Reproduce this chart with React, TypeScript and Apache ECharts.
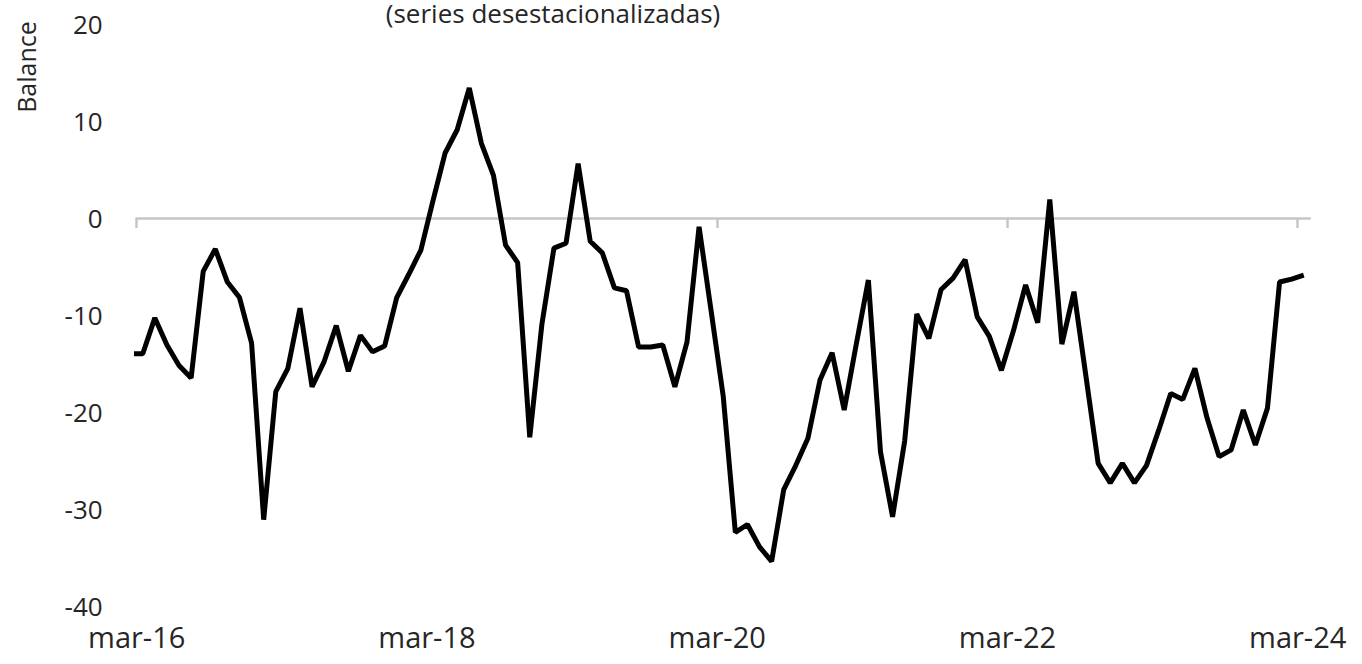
import React, { useEffect, useRef } from "react";
import * as echarts from "echarts";

// Monthly balance, from feb-16 (first point, partly outside the axis) to mar-24
const startMonth = "feb-16";
const values: number[] = [
  -14.0, // feb-16
  -14.0, -10.3, -13.1, -15.2, -16.5, -5.5, -3.2, -6.6, -8.2, -12.9, -31.1, -17.9, // mar-16 .. feb-17
  -15.5, -9.3, -17.4, -14.8, -11.1, -15.8, -12.1, -13.8, -13.2, -8.2, -5.8, -3.3, // mar-17 .. feb-18
  1.8, 6.7, 9.1, 13.4, 7.7, 4.4, -2.8, -4.6, -22.6, -11.0, -3.1, -2.6, // mar-18 .. feb-19
  5.6, -2.4, -3.6, -7.2, -7.5, -13.3, -13.3, -13.1, -17.4, -12.8, -0.9, -9.6, // mar-19 .. feb-20
  -18.4, -32.4, -31.6, -33.9, -35.4, -28.0, -25.5, -22.7, -16.7, -13.9, -19.8, -13.0, // mar-20 .. feb-21
  -6.4, -24.1, -30.8, -23.0, -9.9, -12.4, -7.4, -6.2, -4.3, -10.2, -12.2, -15.7, // mar-21 .. feb-22
  -11.6, -6.9, -10.8, 1.9, -13.0, -7.6, -16.4, -25.3, -27.3, -25.3, -27.3, -25.5, // mar-22 .. feb-23
  -21.9, -18.1, -18.7, -15.5, -20.6, -24.6, -23.9, -19.8, -23.4, -19.6, -6.6, -6.3, // mar-23 .. feb-24
  -5.9, // mar-24
];
const tickMonths = [0, 24, 48, 72, 96]; // months after mar-16
const tickLabels = ["mar-16", "mar-18", "mar-20", "mar-22", "mar-24"];
const yTicks = { min: -40, max: 20, interval: 10 };
const titleText = "(series desestacionalizadas)";
const yName = "Balance";

const FONT = "'Open Sans', 'Noto Sans', sans-serif";
const TEXT_COLOR = "#262626";

export default function App() {
  const ref = useRef<HTMLDivElement>(null);
  useEffect(() => {
    if (!ref.current) return;
    const chart = echarts.init(ref.current, undefined, { renderer: "svg" });
    // each monthly point sits mid-month; index 0 is feb-16
    const data = values.map((v, i) => [i - 1 + 0.5, v]);
    const labelFor = (val: number) => {
      const idx = tickMonths.indexOf(Math.round(val));
      return idx >= 0 && Math.abs(val - tickMonths[idx]) < 1e-6 ? tickLabels[idx] : "";
    };
    chart.setOption({
      animation: false,
      backgroundColor: "#ffffff",
      textStyle: { fontFamily: FONT },
      grid: { left: 136.7, right: 52.2, top: 24, bottom: 58, containLabel: false },
      xAxis: [
        {
          type: "value",
          position: "bottom",
          min: 0,
          max: 97,
          interval: 24,
          axisLine: { show: false, onZero: false },
          axisTick: { show: false },
          splitLine: { show: false },
          axisLabel: {
            customValues: tickMonths,
            formatter: labelFor,
            fontSize: 29,
            color: TEXT_COLOR,
            fontFamily: FONT,
            margin: 16,
          },
        },
        {
          type: "value",
          position: "top",
          min: 0,
          max: 97,
          interval: 24,
          axisLine: { show: true, onZero: true, onZeroAxisIndex: 0, lineStyle: { color: "#c6c6c6", width: 2.5 } },
          axisTick: { show: true, inside: true, length: 10, customValues: tickMonths, lineStyle: { color: "#c6c6c6", width: 2.5 } },
          axisLabel: { show: false },
          splitLine: { show: false },
        },
      ],
      yAxis: {
        type: "value",
        min: yTicks.min,
        max: yTicks.max,
        interval: yTicks.interval,
        axisLine: { show: false },
        axisTick: { show: false },
        splitLine: { show: false },
        axisLabel: { fontSize: 26, color: TEXT_COLOR, fontFamily: FONT, margin: 34 },
      },
      graphic: [
        {
          type: "text",
          x: 553,
          y: 13,
          style: {
            text: titleText,
            fontSize: 26,
            fontFamily: FONT,
            fill: TEXT_COLOR,
            align: "center",
            verticalAlign: "middle",
          },
        },
        {
          type: "text",
          x: 26,
          y: 67,
          rotation: Math.PI / 2,
          style: {
            text: yName,
            fontSize: 25,
            fontFamily: FONT,
            fill: TEXT_COLOR,
            align: "center",
            verticalAlign: "middle",
          },
        },
      ],
      series: [
        {
          type: "line",
          xAxisIndex: 0,
          yAxisIndex: 0,
          data,
          showSymbol: false,
          clip: true,
          lineStyle: { color: "#000000", width: 5 },
        },
      ],
    });
    return () => chart.dispose();
  }, []);
  return <div ref={ref} style={{ position: "absolute", left: 0, top: 0, width: 1362, height: 664 }} />;
}
